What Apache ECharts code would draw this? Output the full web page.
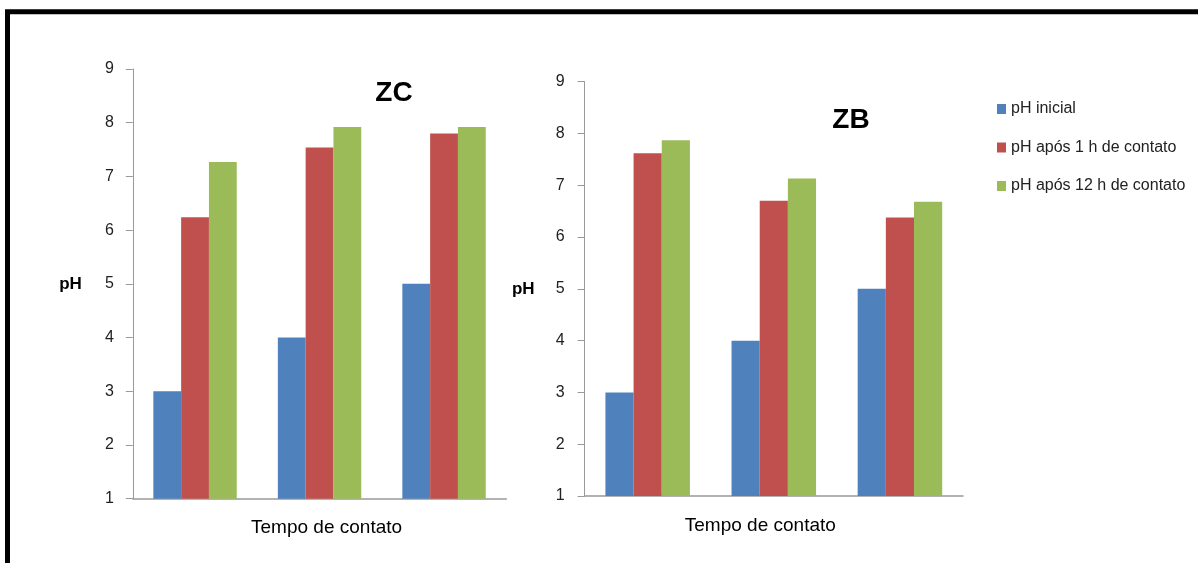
<!DOCTYPE html>
<html>
<head>
<meta charset="utf-8">
<script src="https://cdn.jsdelivr.net/npm/echarts@6/dist/echarts.min.js"></script>
<style>
html,body{margin:0;padding:0;background:#fff;}
#chart{width:1198px;height:563px;}
</style>
</head>
<body>
<div id="chart"></div>
<script>
const categories = ['pH 3', 'pH 4', 'pH 5'];
const seriesNames = ['pH inicial', 'pH após 1 h de contato', 'pH após 12 h de contato'];
const zcInicial = [3.0, 4.0, 5.0];
const zc1h = [6.24, 7.54, 7.80];
const zc12h = [7.27, 7.92, 7.92];
const zbInicial = [3.0, 4.0, 5.0];
const zb1h = [7.62, 6.70, 6.38];
const zb12h = [7.87, 7.13, 6.68];
const yTicks = [1, 9, 1]; // min, max, interval

const colors = ['#4F81BD', '#C0504D', '#9BBB59'];
const FONT = '"Liberation Sans", Arial, sans-serif';

function yAxis(gridIndex, nameGap, margin) {
  return {
    type: 'value', gridIndex: gridIndex,
    min: yTicks[0], max: yTicks[1], interval: yTicks[2],
    name: 'pH', nameLocation: 'middle', nameRotate: 0, nameGap: nameGap,
    nameTextStyle: {fontFamily: FONT, fontWeight: 'bold', fontSize: 17, color: '#000', padding: [6, 0, 0, 0]},
    axisLine: {show: true, lineStyle: {color: '#999', width: 1}},
    axisTick: {show: true, length: 7, lineStyle: {color: '#999'}},
    axisLabel: {fontFamily: FONT, fontSize: 16, color: '#222', margin: margin},
    splitLine: {show: false}
  };
}
function xAxis(gridIndex, pad) {
  return {
    type: 'category', gridIndex: gridIndex, data: categories,
    name: 'Tempo de contato', nameLocation: 'middle', nameGap: 20,
    nameTextStyle: {fontFamily: FONT, fontSize: 19, color: '#000', padding: pad},
    axisLine: {show: true, lineStyle: {color: '#999', width: 1.5}},
    axisTick: {show: false},
    axisLabel: {show: false}
  };
}
function bar(name, data, idx, color) {
  return {
    type: 'bar', name: name, data: data, xAxisIndex: idx, yAxisIndex: idx,
    barGap: '0%', barCategoryGap: '33%',
    itemStyle: {color: color},
    emphasis: {disabled: true}
  };
}

const chart = echarts.init(document.getElementById('chart'), null, {renderer: 'canvas'});
chart.setOption({
  animation: false,
  color: colors,
  grid: [
    {left: 132.8, top: 69, width: 373.5, height: 429.7, containLabel: false},
    {left: 584.6, top: 81.7, width: 378.4, height: 414.3, containLabel: false}
  ],
  xAxis: [xAxis(0, [0, 0, 0, 14]), xAxis(1, [0, 27, 0, 0])],
  yAxis: [yAxis(0, 51, 19), yAxis(1, 50, 20)],
  legend: {
    orient: 'vertical', left: 992, top: 96,
    itemWidth: 9, itemHeight: 10, itemGap: 22.5,
    icon: 'rect',
    data: seriesNames,
    textStyle: {fontFamily: FONT, fontSize: 16, color: '#222'}
  },
  graphic: [
    {type: 'rect', shape: {x: 7.5, y: 11.8, width: 1400, height: 800},
     style: {fill: 'none', stroke: '#000', lineWidth: 5}, silent: true},
    {type: 'text', x: 394, y: 93, style: {text: 'ZC', fontFamily: FONT, fontWeight: 'bold', fontSize: 28, fill: '#000', textAlign: 'center', textVerticalAlign: 'middle'}},
    {type: 'text', x: 851, y: 120.5, style: {text: 'ZB', fontFamily: FONT, fontWeight: 'bold', fontSize: 28, fill: '#000', textAlign: 'center', textVerticalAlign: 'middle'}}
  ],
  series: [
    bar(seriesNames[0], zcInicial, 0, colors[0]),
    bar(seriesNames[1], zc1h, 0, colors[1]),
    bar(seriesNames[2], zc12h, 0, colors[2]),
    bar(seriesNames[0], zbInicial, 1, colors[0]),
    bar(seriesNames[1], zb1h, 1, colors[1]),
    bar(seriesNames[2], zb12h, 1, colors[2])
  ]
});
</script>
</body>
</html>
